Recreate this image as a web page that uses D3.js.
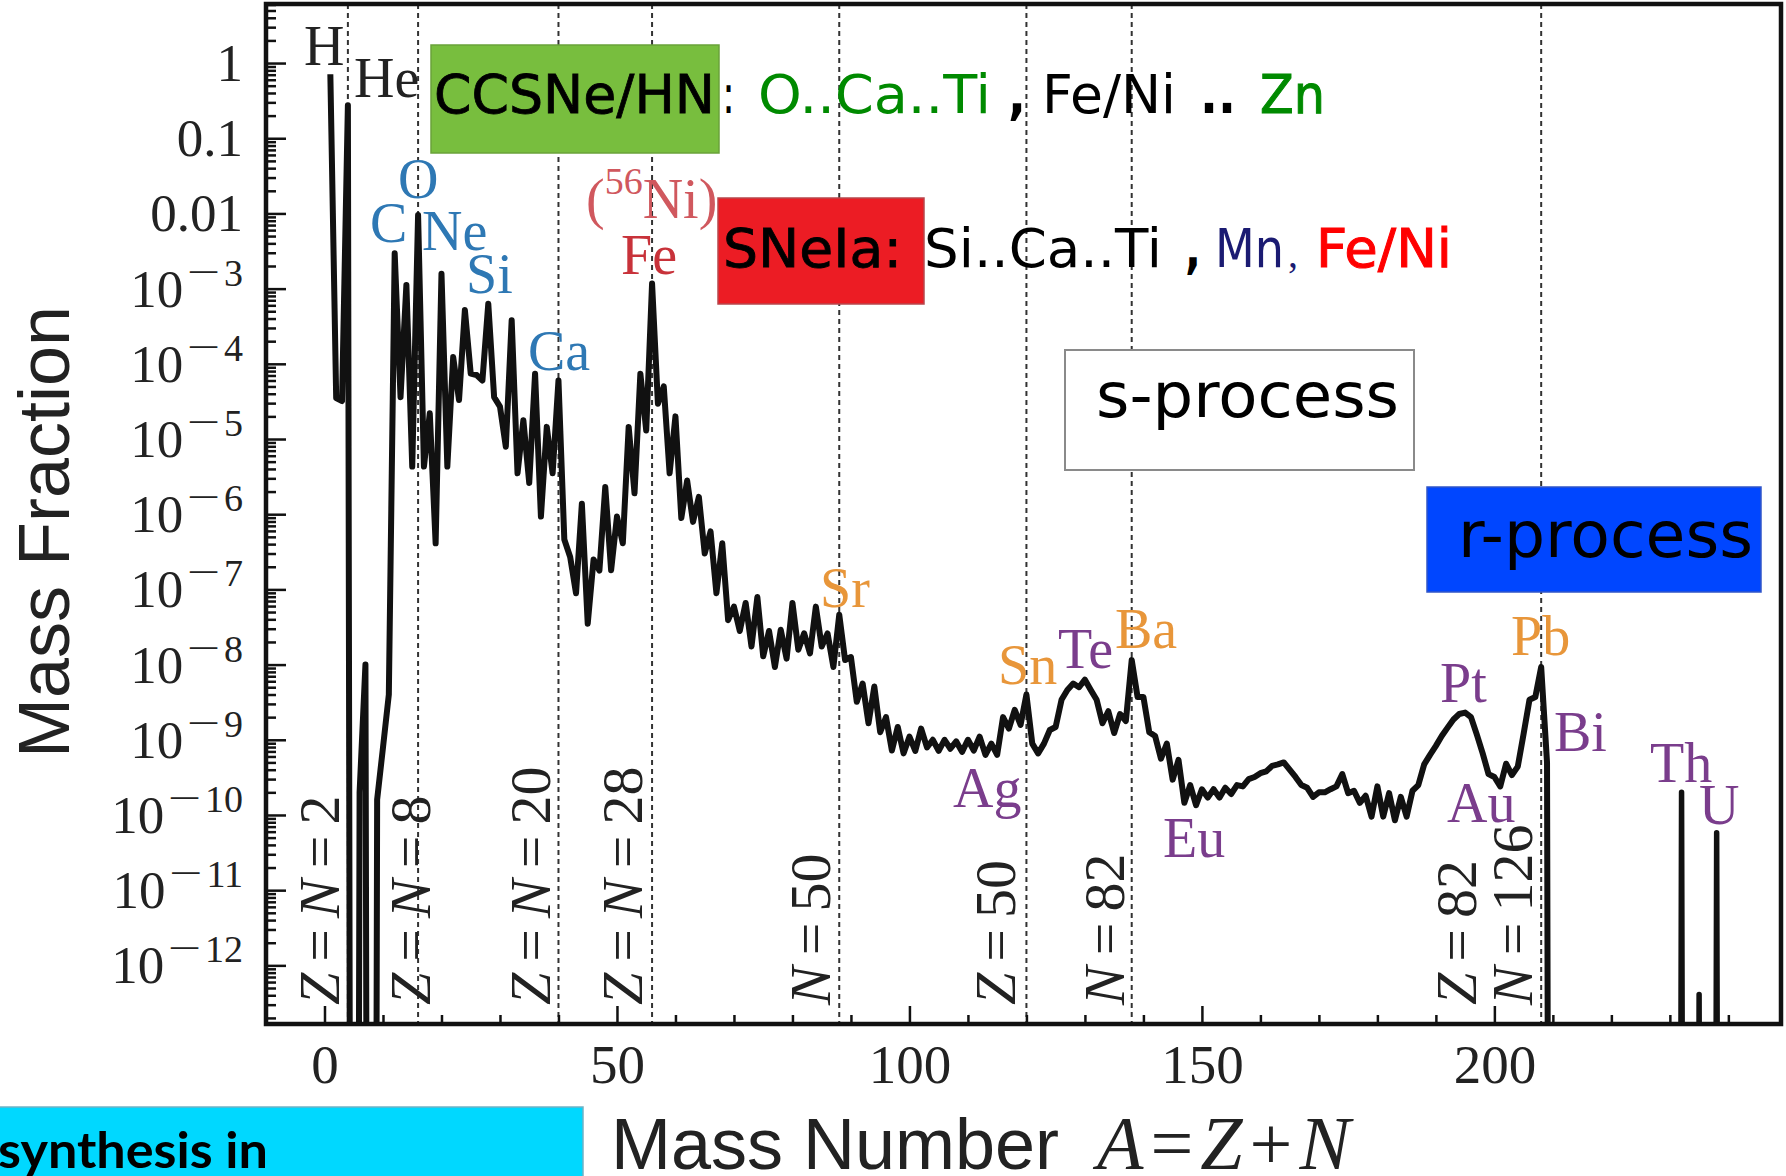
<!DOCTYPE html>
<html>
<head>
<meta charset="utf-8">
<script src="https://cdn.jsdelivr.net/npm/d3@7/dist/d3.min.js"></script>
<style>
  html, body { margin: 0; padding: 0; background: #fff; }
  svg { display: block; }
</style>
</head>
<body>
<svg id="chart" width="1786" height="1176"></svg>
<script>
// Solar-system mass fraction for each mass number A = 1 … 210 (0 where no stable nucleus exists)
const massFraction = [
  7.1e-1, 3.5e-5, 3.2e-5, 2.75e-1, 0, 2.0e-10, 1.0e-8, 0, 1.6e-10, 7.9e-10,            // 1-10
  4.0e-9, 2.95e-3, 3.6e-5, 1.12e-3, 4.3e-6, 9.5e-3, 4.3e-6, 2.2e-5, 4.1e-7, 1.58e-3,     // 11-20
  4.3e-6, 1.23e-4, 3.3e-5, 5.2e-4, 7.4e-5, 7.1e-5, 6.0e-5, 6.3e-4, 3.6e-5, 2.7e-5,       // 21-30
  7.9e-6, 3.8e-4, 3.5e-6, 1.78e-5, 2.6e-6, 7.4e-5, 9.3e-7, 1.45e-5, 3.5e-6, 6.0e-5,      // 31-40
  4.6e-7, 2.7e-7, 8.9e-8, 1.38e-6, 3.5e-8, 2.5e-7, 1.78e-7, 2.3e-6, 1.8e-7, 9.3e-7,      // 41-50
  4.1e-7, 1.45e-5, 1.9e-6, 7.4e-5, 1.3e-5, 1.17e-3, 2.95e-5, 5.0e-5, 3.5e-6, 2.0e-5,     // 51-60
  8.9e-7, 2.8e-6, 7.9e-7, 1.7e-6, 3.0e-7, 5.9e-7, 8.9e-8, 4.1e-7, 3.9e-8, 5.9e-8,        // 61-70
  2.8e-8, 6.6e-8, 1.74e-8, 7.9e-8, 1.29e-8, 2.8e-8, 9.3e-9, 2.9e-8, 1.2e-8, 6.6e-8,      // 71-80
  1.58e-8, 2.6e-8, 1.41e-8, 5.9e-8, 1.74e-8, 2.6e-8, 9.3e-9, 4.6e-8, 1.15e-8, 1.26e-8,   // 81-90
  3.2e-9, 5.6e-9, 1.66e-9, 5.1e-9, 1.26e-9, 2.0e-9, 7.2e-10, 1.48e-9, 6.6e-10, 1.1e-9,   // 91-100
  7.1e-10, 1.41e-9, 7.9e-10, 1.0e-9, 7.1e-10, 1.0e-9, 7.6e-10, 9.5e-10, 6.9e-10, 1.0e-9, // 101-110
  7.2e-10, 1.1e-9, 6.3e-10, 8.9e-10, 6.3e-10, 2.0e-9, 1.41e-9, 2.5e-9, 1.58e-9, 4.0e-9,  // 111-120
  8.9e-10, 6.6e-10, 8.9e-10, 1.35e-9, 1.48e-9, 3.4e-9, 4.6e-9, 5.6e-9, 5.0e-9, 6.3e-9,   // 121-130
  4.6e-9, 3.4e-9, 1.66e-9, 2.4e-9, 1.23e-9, 2.2e-9, 1.78e-9, 1.15e-8, 3.7e-9, 3.7e-9,    // 131-140
  1.26e-9, 1.12e-9, 5.6e-10, 8.9e-10, 2.95e-10, 5.4e-10, 1.45e-10, 2.5e-10, 1.35e-10, 2.2e-10, // 141-150
  1.7e-10, 2.2e-10, 1.7e-10, 2.3e-10, 1.9e-10, 2.5e-10, 2.4e-10, 3.0e-10, 3.2e-10, 3.6e-10,    // 151-160
  3.8e-10, 4.5e-10, 4.7e-10, 5.0e-10, 4.0e-10, 3.2e-10, 2.5e-10, 2.3e-10, 1.74e-10, 2.0e-10,   // 161-170
  2.0e-10, 2.2e-10, 2.4e-10, 3.5e-10, 1.95e-10, 2.1e-10, 1.45e-10, 1.8e-10, 9.5e-11, 2.4e-10,  // 171-180
  9.5e-11, 1.95e-10, 8.5e-11, 1.74e-10, 9.5e-11, 2.1e-10, 2.5e-10, 4.7e-10, 6.3e-10, 8.3e-10,  // 181-190
  1.12e-9, 1.45e-9, 1.86e-9, 2.2e-9, 2.3e-9, 2.0e-9, 1.17e-9, 6.6e-10, 3.5e-10, 3.2e-10,       // 191-200
  2.4e-10, 4.8e-10, 3.4e-10, 4.4e-10, 1.2e-9, 3.4e-9, 3.7e-9, 9.3e-9, 5.0e-10, 0              // 201-210
];

// Long-lived actinides beyond the Pb/Bi region
const actinideA = [232, 235, 238];
const actinideFraction = [2.0e-10, 4.1e-13, 5.8e-11];

// Closed shells (magic numbers) marked with dashed lines
const magicA = [4, 16, 40, 56, 88, 120, 138, 208];
const magicLabels = [["Z=N=2"], ["Z=N=8"], ["Z=N=20"], ["Z=N=28"], ["N=50"], ["Z=50"], ["N=82"], ["Z=82", "N=126"]];

// Axis ticks
const xTickValues = [0, 50, 100, 150, 200];
const yTickExponents = [0, -1, -2, -3, -4, -5, -6, -7, -8, -9, -10, -11, -12];

// ---------------------------------------------------------------------------
const svg = d3.select("#chart");
const plot = { left: 266, right: 1781, top: 4, bottom: 1024 };

const x = d3.scaleLinear().domain([-10, 249]).range([plot.left, plot.right]);
const y = d3.scaleLog().domain([1.66e-13, 6.1]).range([plot.bottom, plot.top]);
const FLOOR = 1e-40;   // zero abundance drops far below the frame
const yv = v => y(Math.max(v, FLOOR));

const serif = "'Liberation Serif', 'Times New Roman', serif";
const sans = "'Liberation Sans', Arial, sans-serif";
const dejavu = "'DejaVu Sans', Verdana, sans-serif";

svg.append("rect").attr("width", 1786).attr("height", 1176).attr("fill", "#fff");

svg.append("clipPath").attr("id", "plotClip")
  .append("rect")
  .attr("x", plot.left).attr("y", plot.top)
  .attr("width", plot.right - plot.left).attr("height", plot.bottom - plot.top);

// dashed magic-number lines
svg.append("g").selectAll("line").data(magicA).join("line")
  .attr("x1", d => x(d)).attr("x2", d => x(d))
  .attr("y1", plot.top).attr("y2", plot.bottom)
  .attr("stroke", "#333").attr("stroke-width", 2)
  .attr("stroke-dasharray", "5,4");

// abundance curve
const series = massFraction.map((f, i) => ({ A: i + 1, f }));
const line = d3.line().x(d => x(d.A)).y(d => yv(d.f));
const curves = svg.append("g").attr("clip-path", "url(#plotClip)");
curves.append("path").datum(series)
  .attr("d", line)
  .attr("fill", "none").attr("stroke", "#111").attr("stroke-width", 6)
  .attr("stroke-linejoin", "round");
actinideA.forEach((A, i) => {
  const spike = [{ A: A - 1, f: 0 }, { A, f: actinideFraction[i] }, { A: A + 1, f: 0 }];
  curves.append("path").datum(spike).attr("d", line)
    .attr("fill", "none").attr("stroke", "#111").attr("stroke-width", 5.5)
    .attr("stroke-linejoin", "round");
});

// axes (ticks pointing inwards)
const tickStyle = g => {
  g.select(".domain").remove();
  g.selectAll(".tick line").attr("stroke", "#111").attr("stroke-width", 2.5);
};
const xMinor = d3.range(-10, 250, 10).filter(v => v % 50 !== 0);
svg.append("g").attr("transform", `translate(0,${plot.bottom})`)
  .call(d3.axisBottom(x).tickValues(xMinor).tickSize(-9).tickFormat(""))
  .call(tickStyle);
svg.append("g").attr("transform", `translate(0,${plot.bottom})`)
  .call(d3.axisBottom(x).tickValues(xTickValues).tickSize(-18).tickPadding(20))
  .call(tickStyle)
  .call(g => g.selectAll(".tick text")
    .attr("font-family", serif).attr("font-size", 55).attr("fill", "#222"));

const yMinor = [];
yTickExponents.concat([-13]).forEach(k => {
  for (let m = 2; m <= 9; m++) {
    const v = m * Math.pow(10, k);
    if (v > y.domain()[0] && v < y.domain()[1]) yMinor.push(v);
  }
});
svg.append("g").attr("transform", `translate(${plot.left},0)`)
  .call(d3.axisLeft(y).tickValues(yMinor).tickSize(-10).tickFormat(""))
  .call(tickStyle);
svg.append("g").attr("transform", `translate(${plot.left},0)`)
  .call(d3.axisLeft(y).tickValues(yTickExponents.map(k => Math.pow(10, k))).tickSize(-20).tickFormat(""))
  .call(tickStyle);

// y tick labels: 1, 0.1, 0.01, then 10^-k
const yLab = svg.append("g").attr("font-family", serif).attr("fill", "#222");
yTickExponents.forEach(k => {
  const ty = y(Math.pow(10, k)) + 18;
  const t = yLab.append("text").attr("x", 243).attr("y", ty)
    .attr("text-anchor", "end").attr("font-size", 53);
  if (k === 0) t.text("1");
  else if (k === -1) t.text("0.1");
  else if (k === -2) t.text("0.01");
  else {
    t.append("tspan").text("10");
    t.append("tspan").attr("dy", -21).attr("dx", 2).attr("font-size", 44)
      .attr("font-family", dejavu).attr("font-weight", 300).text("\u2212");
    t.append("tspan").attr("dx", 2).attr("font-size", 38).text(String(-k));
  }
});

// frame
svg.append("rect")
  .attr("x", plot.left).attr("y", plot.top)
  .attr("width", plot.right - plot.left).attr("height", plot.bottom - plot.top)
  .attr("fill", "none").attr("stroke", "#111").attr("stroke-width", 4.5);

// magic-number labels (rotated, italic Z and N)
const magicOffset = [[-9], [12], [-8], [-10], [-9], [-11], [-8], [-65, -9]];
function mathText(sel, str, pad) {
  let pending = 0;
  for (const ch of str) {
    const ts = sel.append("tspan").text(ch);
    if (/[A-Z]/.test(ch)) ts.attr("font-style", "italic");
    if (ch === "=" || ch === "+") {
      ts.attr("dx", pad);
      pending = pad;
    } else if (pending) {
      ts.attr("dx", pending);
      pending = 0;
    }
  }
}
magicA.forEach((A, i) => {
  magicLabels[i].forEach((lab, j) => {
    const bx = x(A) + magicOffset[i][j];
    const t = svg.append("text")
      .attr("transform", `translate(${bx},1005) rotate(-90)`)
      .attr("font-family", serif).attr("font-size", 58).attr("fill", "#222");
    mathText(t, lab, 11);
  });
});

// element labels
const blue = "#2e78b4", red = "#c8323a", orange = "#e8963a", purple = "#7a3d8c", ink = "#222";
const elementLabels = [
  { t: "H", x: 304, y: 65, c: ink }, { t: "He", x: 354, y: 97, c: ink },
  { t: "C", x: 370, y: 242, c: blue }, { t: "O", x: 398, y: 198, c: blue },
  { t: "Ne", x: 422, y: 250, c: blue }, { t: "Si", x: 466, y: 293, c: blue },
  { t: "Ca", x: 528, y: 370, c: blue }, { t: "Fe", x: 621, y: 274, c: red },
  { t: "Sr", x: 820, y: 607, c: orange }, { t: "Sn", x: 998, y: 684, c: orange },
  { t: "Te", x: 1058, y: 668, c: purple }, { t: "Ba", x: 1115, y: 648, c: orange },
  { t: "Ag", x: 953, y: 807, c: purple }, { t: "Eu", x: 1163, y: 857, c: purple },
  { t: "Pt", x: 1440, y: 702, c: purple }, { t: "Au", x: 1447, y: 822, c: purple },
  { t: "Pb", x: 1511, y: 655, c: orange }, { t: "Bi", x: 1554, y: 751, c: purple },
  { t: "Th", x: 1650, y: 782, c: purple }, { t: "U", x: 1699, y: 824, c: purple }
];
svg.append("g").attr("font-family", serif).attr("font-size", 56)
  .selectAll("text").data(elementLabels).join("text")
  .attr("x", d => d.x).attr("y", d => d.y).attr("fill", d => d.c).text(d => d.t);
const ni = svg.append("text").attr("x", 586).attr("y", 218)
  .attr("font-family", serif).attr("font-size", 56).attr("fill", "#d0585e");
ni.append("tspan").text("(");
ni.append("tspan").attr("dy", -24).attr("font-size", 38).text("56");
ni.append("tspan").attr("dy", 24).text("Ni)");

// annotation boxes
svg.append("rect").attr("x", 431).attr("y", 45).attr("width", 288).attr("height", 108)
  .attr("fill", "#78be3e").attr("stroke", "#6aa23a").attr("stroke-width", 1.5);
svg.append("rect").attr("x", 718).attr("y", 198).attr("width", 206).attr("height", 106)
  .attr("fill", "#ec1c24").attr("stroke", "#b8474c").attr("stroke-width", 1.5);
svg.append("rect").attr("x", 1065).attr("y", 350).attr("width", 349).attr("height", 120)
  .attr("fill", "#fff").attr("stroke", "#8a8a8a").attr("stroke-width", 2);
svg.append("rect").attr("x", 1427).attr("y", 487).attr("width", 334).attr("height", 105)
  .attr("fill", "#0046ff").attr("stroke", "#3056c8").attr("stroke-width", 1.5);

const annot = [
  { t: "CCSNe/HN", x: 434, y: 113, w: 281, c: "#000", s: 0.8 },
  { t: ":", x: 722, y: 113, w: 13, c: "#000" },
  { t: "O..Ca..Ti", x: 758, y: 113, w: 233, c: "#008a00" },
  { t: ",", x: 1008, y: 113, w: 18, c: "#000", b: true },
  { t: "Fe/Ni", x: 1042, y: 113, w: 134, c: "#000" },
  { t: "..", x: 1200, y: 113, w: 36, c: "#000", b: true },
  { t: "Zn", x: 1260, y: 113, w: 65, c: "#008a00", s: 1 },
  { t: "SNeIa:", x: 723, y: 267, w: 179, c: "#000", s: 0.8 },
  { t: "Si..Ca..Ti", x: 924, y: 267, w: 238, c: "#000" },
  { t: ",", x: 1185, y: 267, w: 16, c: "#000", b: true },
  { t: "Mn", x: 1215, y: 267, w: 69, c: "#1b1b72" },
  { t: "Fe/Ni", x: 1316, y: 267, w: 136, c: "#ff0000", s: 1 },
  { t: "s-process", x: 1096, y: 417, w: 303, c: "#000", f: 62 },
  { t: "r-process", x: 1458, y: 557, w: 295, c: "#000", f: 64 }
];
svg.append("g").attr("font-family", dejavu)
  .selectAll("text").data(annot).join("text")
  .attr("x", d => d.x).attr("y", d => d.y)
  .attr("font-size", d => d.f || 53)
  .attr("font-weight", d => d.b ? "bold" : "normal")
  .attr("fill", d => d.c)
  .attr("stroke", d => d.s ? d.c : "none").attr("stroke-width", d => d.s || 0)
  .attr("textLength", d => d.w).attr("lengthAdjust", "spacingAndGlyphs")
  .text(d => d.t);
svg.append("text").attr("x", 1288).attr("y", 267)
  .attr("font-family", serif).attr("font-size", 40).attr("fill", "#1b1b72").text(",");

// cyan caption box at the lower left
svg.append("rect").attr("x", -5).attr("y", 1107).attr("width", 588).attr("height", 80)
  .attr("fill", "#00d8ff").attr("stroke", "#6fb3c6").attr("stroke-width", 1.5);
svg.append("text").attr("x", -2).attr("y", 1168)
  .attr("font-family", "Lato, 'Open Sans', sans-serif").attr("font-weight", 700)
  .attr("font-size", 50).attr("fill", "#000")
  .attr("textLength", 270).attr("lengthAdjust", "spacingAndGlyphs")
  .text("synthesis in");

// axis titles
svg.append("text")
  .attr("transform", "translate(69,532) rotate(-90)")
  .attr("text-anchor", "middle")
  .attr("font-family", sans).attr("font-size", 72).attr("fill", "#222")
  .text("Mass Fraction");
svg.append("text").attr("x", 611).attr("y", 1169)
  .attr("font-family", sans).attr("font-size", 72).attr("fill", "#222")
  .attr("textLength", 448).attr("lengthAdjust", "spacingAndGlyphs")
  .text("Mass Number");
const xm = svg.append("text").attr("x", 1097).attr("y", 1169)
  .attr("font-family", serif).attr("font-size", 76).attr("fill", "#222");
mathText(xm, "A=Z+N", 7);
</script>
</body>
</html>
